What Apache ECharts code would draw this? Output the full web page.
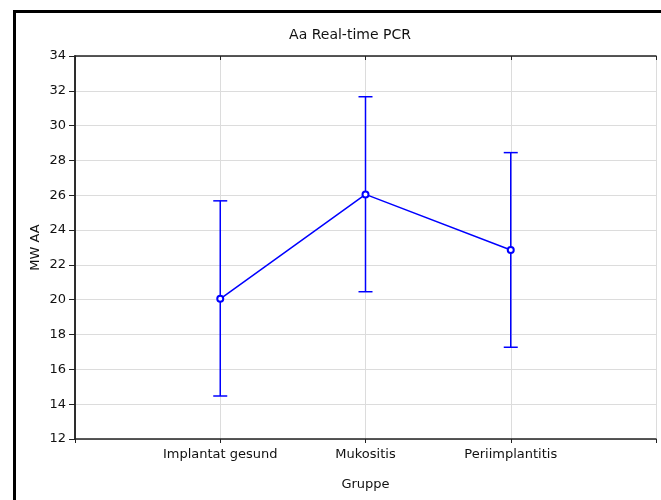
<!DOCTYPE html>
<html>
<head>
<meta charset="utf-8">
<script src="https://cdn.jsdelivr.net/npm/echarts@6/dist/echarts.min.js"></script>
<style>html,body{margin:0;padding:0;background:#fff;}#c{width:661px;height:500px;}</style>
</head>
<body>
<div id="c"></div>
<script>
var categories = ['Implantat gesund', 'Mukositis', 'Periimplantitis'];
var means = [20.05, 26.05, 22.86];
var upper = [25.68, 31.66, 28.45];
var lower = [14.47, 20.46, 17.27];
var yTicks = [12, 14, 16, 18, 20, 22, 24, 26, 28, 30, 32, 34];

var chart = echarts.init(document.getElementById('c'));
var font = 'DejaVu Sans, Arial, sans-serif';
var FS = 13;
var lineData = means.map(function (v, i) { return [i + 1, v]; });
var errData = means.map(function (v, i) { return [i + 1, lower[i], upper[i]]; });
var BLUE = '#0000ff';

chart.setOption({
  animation: false,
  backgroundColor: '#fff',
  title: {
    text: 'Aa Real-time PCR',
    left: 345, top: 23, textAlign: 'center',
    textStyle: { fontFamily: font, fontSize: 14, fontWeight: 'normal', color: '#111' }
  },
  graphic: [{
    type: 'rect',
    shape: { x: 14.5, y: 11.5, width: 700, height: 520 },
    style: { fill: 'none', stroke: '#000', lineWidth: 3 },
    silent: true
  }],
  grid: { left: 75, right: 5, top: 56, bottom: 61, containLabel: false },
  xAxis: [{
    type: 'value', min: 0, max: 4, interval: 1,
    name: 'Gruppe', nameLocation: 'middle', nameGap: 39,
    nameTextStyle: { fontFamily: font, fontSize: FS, color: '#111' },
    axisLine: { show: true, lineStyle: { color: '#222', width: 1.5 } },
    axisTick: { show: true, length: 4, lineStyle: { color: '#222' } },
    axisLabel: {
      fontFamily: font, fontSize: FS, color: '#111', margin: 9,
      formatter: function (v) { return categories[v - 1] || ''; }
    },
    splitLine: { show: true, lineStyle: { color: '#dcdcdc', width: 1 } }
  }, {
    type: 'value', position: 'top', min: 0, max: 4, interval: 1,
    axisLine: { show: true, lineStyle: { color: '#222', width: 1.5 } },
    axisTick: { show: true, inside: true, length: 4, lineStyle: { color: '#222' } },
    axisLabel: { show: false },
    splitLine: { show: false }
  }],
  yAxis: [{
    type: 'value', min: 12, max: 34, interval: 2,
    name: 'MW AA', nameLocation: 'middle', nameGap: 33, nameMoveOverlap: false,
    nameTextStyle: { fontFamily: font, fontSize: FS, color: '#111' },
    axisLine: { show: true, lineStyle: { color: '#222', width: 1.5 } },
    axisTick: { show: true, length: 6, lineStyle: { color: '#222' } },
    axisLabel: { fontFamily: font, fontSize: FS, color: '#111', margin: 9 },
    splitLine: { show: true, lineStyle: { color: '#dcdcdc', width: 1 } }
  }, {
    type: 'value', position: 'right', min: 12, max: 34, interval: 2,
    axisLine: { show: true, lineStyle: { color: '#222', width: 1.5 } },
    axisTick: { show: true, inside: true, length: 5, lineStyle: { color: '#222' } },
    axisLabel: { show: false },
    splitLine: { show: false }
  }],
  series: [{
    type: 'custom',
    data: errData,
    renderItem: function (params, api) {
      var x = api.value(0);
      var lo = api.coord([x, api.value(1)]);
      var hi = api.coord([x, api.value(2)]);
      var hw = 7;
      var st = { stroke: BLUE, lineWidth: 1.5, fill: 'none' };
      return {
        type: 'group',
        children: [
          { type: 'line', shape: { x1: lo[0], y1: lo[1], x2: hi[0], y2: hi[1] }, style: st },
          { type: 'line', shape: { x1: lo[0] - hw, y1: lo[1], x2: lo[0] + hw, y2: lo[1] }, style: st },
          { type: 'line', shape: { x1: hi[0] - hw, y1: hi[1], x2: hi[0] + hw, y2: hi[1] }, style: st }
        ]
      };
    },
    z: 3
  }, {
    type: 'line',
    data: lineData,
    symbol: 'emptyCircle', symbolSize: 6,
    lineStyle: { color: BLUE, width: 1.5 },
    itemStyle: { color: BLUE, borderColor: BLUE, borderWidth: 1.5 },
    z: 4
  }]
});
</script>
</body>
</html>
